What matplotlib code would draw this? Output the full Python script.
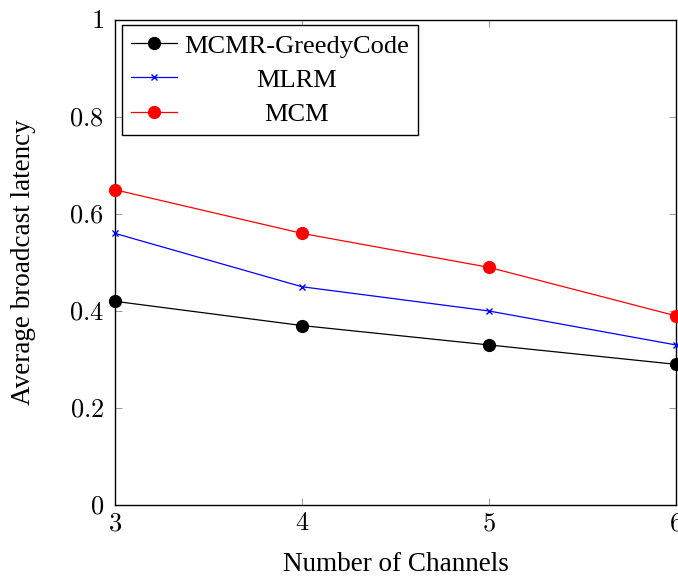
import numpy as np
import matplotlib.pyplot as plt

plt.rcParams['font.family'] = 'Liberation Serif'
plt.rcParams['mathtext.fontset'] = 'cm'

channels = [3, 4, 5, 6]
greedy = [0.42, 0.37, 0.33, 0.29]
mlrm = [0.56, 0.45, 0.40, 0.33]
mcm = [0.65, 0.56, 0.49, 0.39]
labels = ['MCMR-GreedyCode', 'MLRM', 'MCM']
yticks = [0, 0.2, 0.4, 0.6, 0.8, 1]

W, H = 678, 577
fig = plt.figure(figsize=(W / 100, H / 100), dpi=100)
ax = fig.add_axes([115 / W, 1 - 505 / H, 561 / W, 485 / H])

ax.plot(channels, greedy, color='black', lw=0.9, marker='o', ms=8.5,
        clip_on=False, zorder=3, label=labels[0])
ax.plot(channels, mlrm, color='blue', lw=0.9, marker='x', ms=5, mew=1.0,
        clip_on=False, zorder=3, label=labels[1])
ax.plot(channels, mcm, color='red', lw=0.9, marker='o', ms=8.5,
        clip_on=False, zorder=3, label=labels[2])

ax.set_xlim(3, 6)
ax.set_ylim(0, 1)
ax.set_xticks(channels)
ax.set_xticklabels(['$%d$' % c for c in channels])
ax.set_yticks(yticks)
ax.set_yticklabels(['$%g$' % t for t in yticks])
ax.tick_params(direction='in', length=5, width=0.7, color='#999999',
               labelsize=19, top=True, right=True)
ax.tick_params(axis='y', pad=8)
ax.tick_params(axis='x', pad=6)
for s in ax.spines.values():
    s.set_linewidth(1.0)

ax.set_xlabel('Number of Channels', fontsize=19.5, labelpad=12)
ax.set_ylabel('Average broadcast latency', fontsize=19.5, labelpad=24)

leg = ax.legend(loc='upper left', bbox_to_anchor=(7 / 561, 480 / 485),
                fontsize=19, frameon=True, fancybox=False, framealpha=1,
                edgecolor='black', borderpad=0.35, labelspacing=0.4,
                handlelength=1.75, handletextpad=0.25, borderaxespad=0)
leg.get_frame().set_linewidth(1.0)

# centre the legend labels like pgfplots does
fig.canvas.draw()
r = fig.canvas.get_renderer()
boxes = [t.get_window_extent(r) for t in leg.get_texts()]
x0 = min(b.x0 for b in boxes)
x1 = max(b.x1 for b in boxes)
for t, b in zip(leg.get_texts(), boxes):
    fig.text((x0 + x1) / 2 / W, (b.y0 + b.y1) / 2 / H, t.get_text(),
             fontsize=19, ha='center', va='center')
    t.set_visible(False)

fig.savefig('out.png', dpi=100)
